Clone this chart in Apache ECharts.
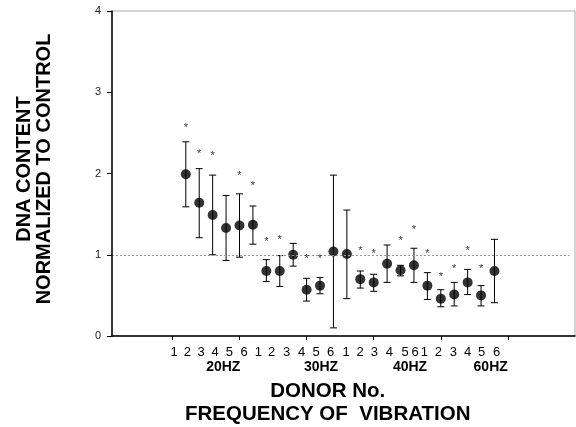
<!DOCTYPE html>
<html>
<head>
<meta charset="utf-8">
<script src="https://cdn.jsdelivr.net/npm/echarts@6/dist/echarts.min.js"></script>
<style>html,body{margin:0;padding:0;background:#fff}#c{width:576px;height:427px}</style>
</head>
<body>
<div id="c"></div>
<script>
// Donor number labels (6 donors per frequency)
const donorLabels = ['1','2','3','4','5','6','1','2','3','4','5','6','1','2','3','4','5','6','1','2','3','4','5','6'];
const groupLabels = ['20HZ','30HZ','40HZ','60HZ'];
const yTicks = [0, 1, 2, 3, 4];
// Mean DNA content normalized to control
const means = [1.99,1.64,1.49,1.33,1.36,1.37, 0.80,0.80,1.00,0.57,0.62,1.04, 1.01,0.70,0.66,0.89,0.81,0.87, 0.62,0.46,0.51,0.66,0.50,0.80];
const upper = [2.39,2.06,1.98,1.73,1.75,1.60, 0.94,0.99,1.14,0.71,0.72,1.98, 1.55,0.80,0.76,1.12,0.87,1.08, 0.78,0.57,0.66,0.82,0.62,1.19];
const lower = [1.59,1.21,1.00,0.93,0.97,1.13, 0.67,0.61,0.86,0.43,0.52,0.10, 0.46,0.59,0.55,0.66,0.74,0.66, 0.45,0.36,0.37,0.51,0.37,0.41];
// Significance asterisk heights (null = no asterisk)
const stars = [2.59,2.26,2.24,null,1.99,1.87, 1.18,1.21,null,0.97,0.97,null, null,1.07,1.04,null,1.19,1.33, 1.04,0.75,0.85,1.07,0.85,null];
const controlLevel = 1;

const pointData = means.map((v, i) => [i + 1, v]);
const errData = means.map((v, i) => [i + 1, lower[i], upper[i]]);
const starData = stars.map((v, i) => v == null ? null : [i + 1, v]).filter(d => d);

const chart = echarts.init(document.getElementById('c'), null, {renderer: 'canvas'});
const FONT = 'Liberation Sans, Arial, sans-serif';

// layout for donor/group labels (pixel x positions of the typed label row)
const donorX = [174,187.3,201,215,229.3,244,258.3,271.7,286.7,301.7,316,330.7,346,360,374.3,389.3,405,415,424.3,438.3,453.3,467.7,481.7,496.7];
const groupX = [223.3,321,410,490.7];

const graphics = [];
donorLabels.forEach((t, i) => graphics.push({type:'text', x: donorX[i], y: 352, style:{text:t, font:'13px ' + FONT, fill:'#000', textAlign:'center', textVerticalAlign:'middle'}}));
groupLabels.forEach((t, i) => graphics.push({type:'text', x: groupX[i], y: 367.5, style:{text:t, font:'bold 14px ' + FONT, fill:'#000', textAlign:'center', textVerticalAlign:'middle'}}));
graphics.push({type:'text', x: 327.7, y: 391, style:{text:'DONOR No.', font:'bold 20.5px ' + FONT, fill:'#000', textAlign:'center', textVerticalAlign:'middle'}});
graphics.push({type:'text', x: 327.7, y: 414, style:{text:'FREQUENCY OF  VIBRATION', font:'bold 20.5px ' + FONT, fill:'#000', textAlign:'center', textVerticalAlign:'middle'}});
graphics.push({type:'text', x: 34, y: 169, rotation: Math.PI/2, style:{text:'DNA CONTENT\nNORMALIZED TO CONTROL', font:'bold 20px ' + FONT, lineHeight: 20, fill:'#000', textAlign:'center', textVerticalAlign:'middle'}});

chart.setOption({
  animation: false,
  backgroundColor: '#fff',
  grid: {left: 112, right: 1, top: 11, bottom: 91, show: true, borderColor: '#aaa', borderWidth: 1, z: 0},
  xAxis: {
    type: 'value', min: -4.5, max: 30, z: 6,
    axisLine: {show: true, onZero: false, lineStyle: {color: '#000', width: 1.5}},
    axisTick: {show: true, inside: false, length: 4, customValues: [0,5,10,15,20,25], lineStyle: {color: '#000', width: 1}},
    axisLabel: {show: false},
    splitLine: {show: false}
  },
  yAxis: {
    type: 'value', min: yTicks[0], max: yTicks[yTicks.length-1], interval: 1, z: 6,
    axisLine: {show: true, onZero: false, lineStyle: {color: '#000', width: 1.5}},
    axisTick: {show: true, inside: false, length: 5, lineStyle: {color: '#000', width: 1}},
    axisLabel: {color: '#222', fontSize: 11, fontFamily: FONT, margin: 11},
    splitLine: {show: false}
  },
  graphic: graphics,
  series: [
    {
      type: 'custom', name: 'err', data: errData, z: 3,
      renderItem: function (params, api) {
        const x = api.value(0);
        const lo = api.coord([x, api.value(1)]);
        const hi = api.coord([x, api.value(2)]);
        const hw = 3.5;
        const st = {stroke: '#000', lineWidth: 1};
        return {type: 'group', children: [
          {type: 'line', shape: {x1: lo[0], y1: lo[1], x2: hi[0], y2: hi[1]}, style: st},
          {type: 'line', shape: {x1: lo[0]-hw, y1: lo[1], x2: lo[0]+hw, y2: lo[1]}, style: st},
          {type: 'line', shape: {x1: hi[0]-hw, y1: hi[1], x2: hi[0]+hw, y2: hi[1]}, style: st}
        ]};
      },
      markLine: {
        silent: true, symbol: 'none',
        label: {show: false},
        lineStyle: {color: '#999', type: [2, 2], width: 1},
        data: [[{coord: [-4.5, controlLevel]}, {coord: [29.6, controlLevel]}]]
      }
    },
    {
      type: 'scatter', name: 'mean', data: pointData, symbol: 'circle', symbolSize: 10, z: 4,
      itemStyle: {color: '#000'}
    },
    {
      type: 'scatter', name: 'stars', data: starData, symbolSize: 0, z: 5,
      label: {show: true, position: 'inside', formatter: '*', fontSize: 11, fontFamily: FONT, color: '#000', offset: [0, 2]}
    }
  ]
});
</script>
</body>
</html>
